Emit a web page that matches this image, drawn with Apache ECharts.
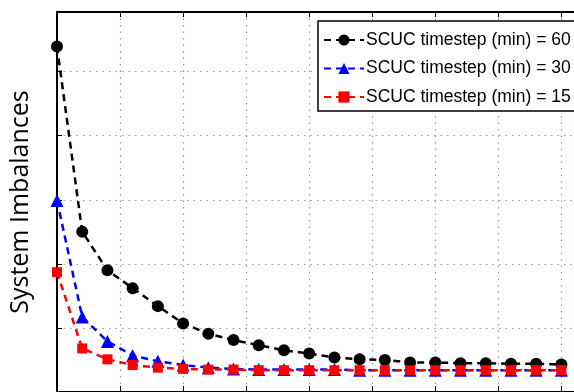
<!DOCTYPE html>
<html>
<head>
<meta charset="utf-8">
<script src="https://cdn.jsdelivr.net/npm/echarts@6/dist/echarts.min.js"></script>
<style>
  html, body { margin: 0; padding: 0; background: #fff; }
  #chart { width: 574px; height: 392px; }
</style>
</head>
<body>
<div id="chart"></div>
<script>
// iteration index along x (no labels shown in the figure)
const steps = [0, 1, 2, 3, 4, 5, 6, 7, 8, 9, 10, 11, 12, 13, 14, 15, 16, 17, 18, 19, 20];
const seriesNames = [
  "SCUC timestep (min) = 60",
  "SCUC timestep (min) = 30",
  "SCUC timestep (min) = 15"
];
const imb60 = [5.39, 2.5, 1.9, 1.62, 1.34, 1.07, 0.91, 0.81, 0.73, 0.65, 0.6, 0.54, 0.51, 0.5, 0.46, 0.46, 0.45, 0.45, 0.44, 0.44, 0.43];
const imb30 = [2.99, 1.17, 0.79, 0.57, 0.48, 0.42, 0.38, 0.36, 0.35, 0.35, 0.35, 0.35, 0.34, 0.34, 0.34, 0.34, 0.34, 0.34, 0.34, 0.34, 0.34];
const imb15 = [1.87, 0.68, 0.51, 0.42, 0.38, 0.36, 0.35, 0.35, 0.34, 0.34, 0.34, 0.34, 0.34, 0.34, 0.34, 0.34, 0.34, 0.34, 0.34, 0.34, 0.34];

const pairs = vals => steps.map((s, i) => [s, vals[i]]);
const gridDots = { color: "#9a9a9a", width: 1.2, type: [1.5, 5] };

function line(name, vals, color, symbol, size) {
  return {
    name: name,
    type: "line",
    data: pairs(vals),
    symbol: symbol,
    symbolSize: size,
    color: color,
    lineStyle: { color: color, width: 2.5, type: [7, 5] },
    itemStyle: { color: color },
    animation: false
  };
}

const chart = echarts.init(document.getElementById("chart"));
chart.setOption({
  backgroundColor: "#fff",
  grid: { left: 57, top: 12, right: -19, bottom: -3 },
  legend: {
    data: seriesNames,
    orient: "vertical",
    left: 318,
    top: 21,
    padding: [10, 24, 5, 5],
    itemWidth: 40,
    itemHeight: 14,
    itemGap: 10.5,
    backgroundColor: "#fff",
    borderColor: "#000",
    borderWidth: 1.5,
    textStyle: { fontFamily: "Liberation Sans", fontSize: 17.5, color: "#000", padding: [0, 0, 0, -3] }
  },
  xAxis: [
    {
      type: "value", position: "top", min: 0, max: 20.5, interval: 2.5,
      axisLine: { show: true, onZero: false, lineStyle: { color: "#000", width: 2 } },
      axisTick: { show: true, inside: true, length: 5, lineStyle: { color: "#000" } },
      axisLabel: { show: false },
      splitLine: { show: true, lineStyle: gridDots }
    },
    {
      type: "value", position: "bottom", min: 0, max: 20.5, interval: 2.5,
      axisLine: { show: true, onZero: false, lineStyle: { color: "#000", width: 2 } },
      axisTick: { show: true, inside: true, length: 6, lineStyle: { color: "#000" } },
      axisLabel: { show: false },
      splitLine: { show: false }
    }
  ],
  yAxis: {
    type: "value", min: 0, max: 5.93, interval: 1,
    name: "System Imbalances",
    nameLocation: "middle",
    nameGap: 24,
    nameTextStyle: { fontFamily: "Open Sans", fontSize: 25, color: "#000" },
    axisLine: { show: true, onZero: false, lineStyle: { color: "#000", width: 2 } },
    axisTick: { show: true, inside: true, length: 5, lineStyle: { color: "#000" } },
    axisLabel: { show: false },
    splitLine: { show: true, lineStyle: gridDots }
  },
  series: [
    line(seriesNames[0], imb60, "#000000", "circle", 12),
    line(seriesNames[1], imb30, "#0000ff", "triangle", 13),
    line(seriesNames[2], imb15, "#ff0000", "rect", 10)
  ]
});
</script>
</body>
</html>
